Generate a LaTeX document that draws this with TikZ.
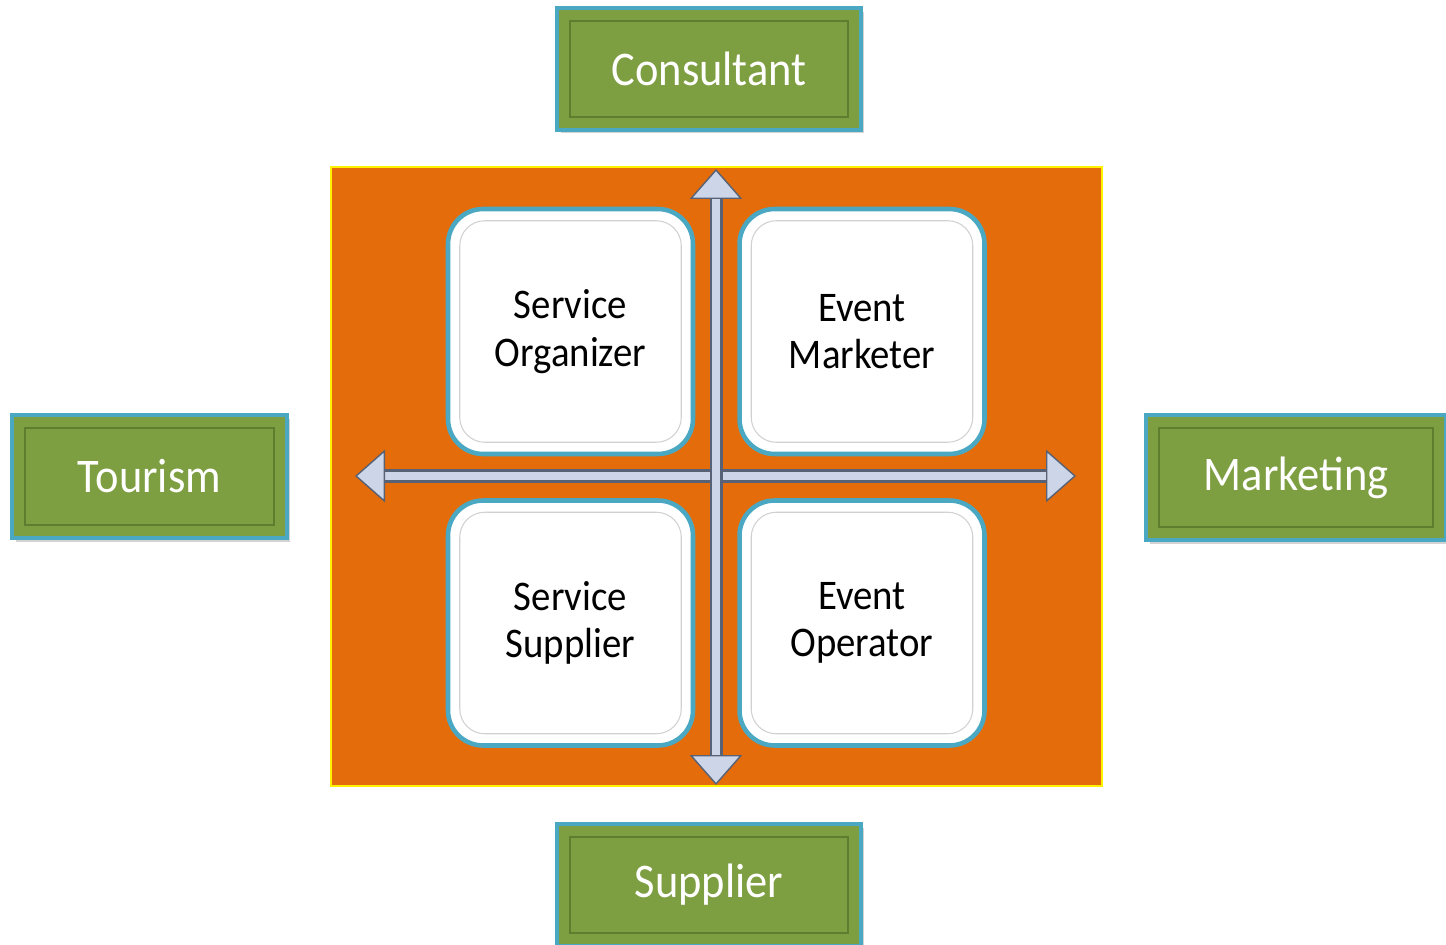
\documentclass[tikz,border=0pt]{standalone}
\usepackage{fontspec}
\newfontfamily\boxfont[FakeStretch=0.92]{Carlito}
\usetikzlibrary{arrows.meta,shadows}
\definecolor{panelorange}{RGB}{228,108,10}
\definecolor{leafgreen}{RGB}{126,158,66}
\definecolor{bevelgreen}{RGB}{96,124,46}
\definecolor{edgeteal}{RGB}{75,168,195}
\definecolor{axislight}{RGB}{204,214,232}
\definecolor{axisdark}{RGB}{88,98,118}

\begin{document}
\begin{tikzpicture}[
  x=0.02cm, y=-0.02cm,
  panel/.style={draw=yellow,line width=1pt,fill=panelorange,minimum width=15.42cm,minimum height=12.38cm},
  field/.style={draw=edgeteal,line width=2pt,fill=leafgreen,minimum width=6.08cm,minimum height=2.44cm,text=white,
    font=\boxfont\fontsize{27.5}{32}\selectfont,drop shadow={opacity=.35,shadow xshift=2pt,shadow yshift=-2pt}},
  bevel/.style={draw=bevelgreen,line width=1pt},
  role/.style={draw=edgeteal,line width=2.6pt,fill=white,rounded corners=.7cm,minimum width=4.9cm,minimum height=4.9cm,
    align=center,font=\boxfont\fontsize{24}{27}\selectfont},
  rim/.style={draw=black!18,line width=.6pt,rounded corners=.5cm},
  axis/.style={{Triangle[width=1.05cm,length=.6cm,color=axisdark,fill=axislight,line width=.8pt]}-{Triangle[width=1.05cm,length=.6cm,color=axisdark,fill=axislight,line width=.8pt]},
    line width=4.5pt,draw=axislight,preaction={-,draw=axisdark,line width=7.4pt,shorten >=.55cm,shorten <=.55cm}}
]
\useasboundingbox (0,0) rectangle (1446,945);
\clip (0,0) rectangle (1446,945);

% Central panel with the four roles.
\node[panel] (panel) at (716.5,476.5) {};
\node[role] (so) at (570.5,331.5) {Service\\Organizer};
\node[role] (em) at (862,331.5) {Event\\Marketer};
\node[role] (ss) at (570.5,623) {Service\\Supplier};
\node[role] (eo) at (862,623) {Event\\Operator};
\foreach \n in {so,em,ss,eo}
  \draw[rim] ([shift={(14,14)}]\n.north west) rectangle ([shift={(-14,-14)}]\n.south east);

% Axes.
\coordinate (hl) at (355,476);
\coordinate (hr) at (1076,476);
\coordinate (vt) at (716,169);
\coordinate (vb) at (716,785);
\draw[axis] (hl) -- (hr);
\draw[axis] (vb) -- (vt);

% Outer fields.
\node[field] (cons) at (709,69) {Consultant};
\node[field,minimum width=5.5cm,minimum height=2.46cm] (tour) at (149.5,476.5) {Tourism};
\node[field,minimum width=6cm,minimum height=2.5cm] (mark) at (1296,477.5) {Marketing};
\node[field] (supp) at (709,885) {Supplier};
\foreach \n in {cons,tour,mark,supp}
  \draw[bevel] ([shift={(15,15)}]\n.north west) rectangle ([shift={(-15,-15)}]\n.south east);
\end{tikzpicture}
\end{document}
